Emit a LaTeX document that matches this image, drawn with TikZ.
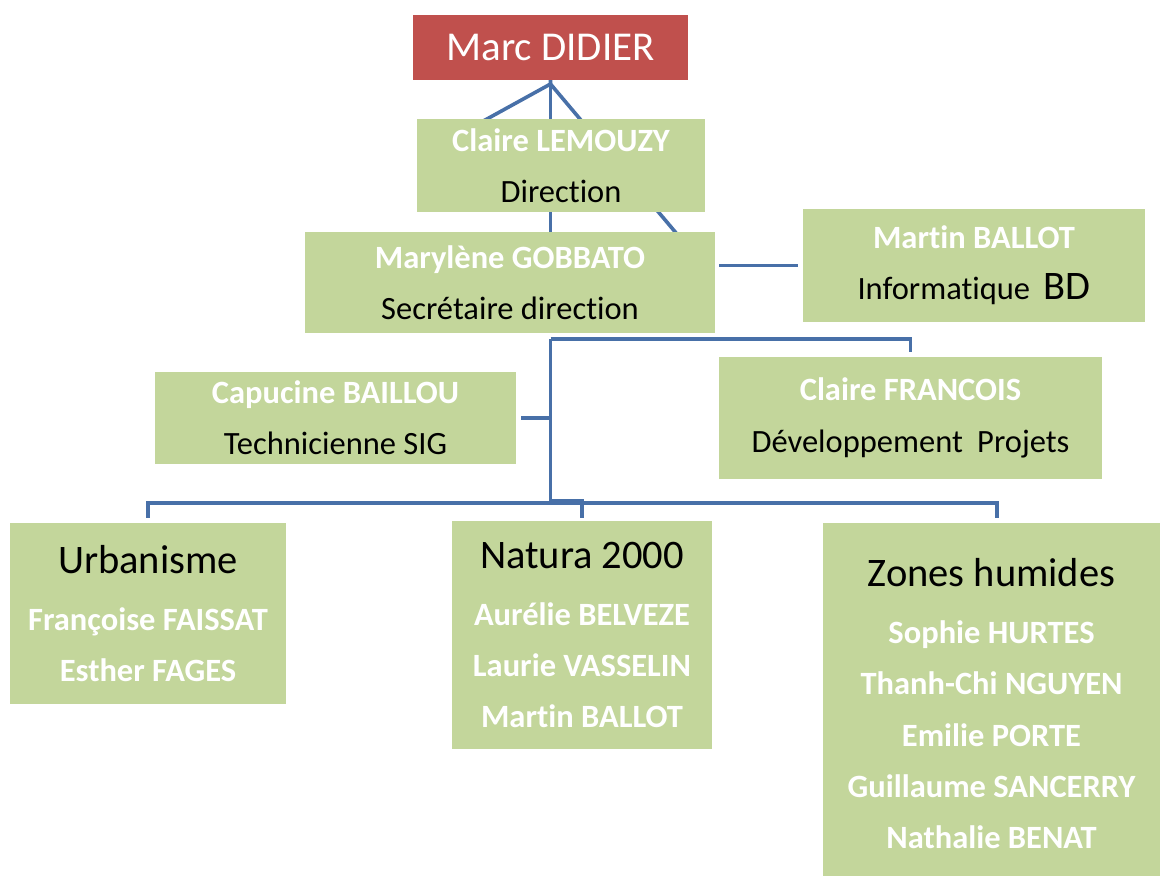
\documentclass[tikz,border=0pt]{standalone}
\usepackage{fontspec}
\setmainfont{Carlito}[Ligatures=NoCommon]
\pgfdeclarelayer{bg}
\pgfsetlayers{bg,main}
\definecolor{boxgreen}{HTML}{C3D69B}
\definecolor{boxred}{HTML}{C0504D}
\definecolor{linkblue}{HTML}{4870A8}
\newcommand{\nm}[1]{{\bfseries\color{white}#1}}
\newcommand{\bigtxt}[1]{{\fontsize{40.5bp}{51bp}\selectfont #1}}
\tikzset{
  box/.style={fill=boxgreen, draw=none, inner sep=0pt, align=center,
    font=\fontsize{32.5bp}{51.3bp}\selectfont},
  redbox/.style={fill=boxred, draw=none, inner sep=0pt, align=center, text=white,
    font=\fontsize{41bp}{49bp}\selectfont},
  link/.style={draw=linkblue, line width=3.6bp},
}
\begin{document}
\begin{tikzpicture}[x=1bp, y=-1bp]
\useasboundingbox (0,0) rectangle (1160,876);

\node[redbox, minimum width=275bp, minimum height=65bp] (marc) at (550.5,47.5) {Marc DIDIER};
\node[box, minimum width=288bp, minimum height=93bp] (lemouzy) at (561,165.5)
  {\nm{Claire LEMOUZY}\\Direction};
\node[box, minimum width=410bp, minimum height=101bp] (marylene) at (510,282.5)
  {\nm{Marylène GOBBATO}\\Secrétaire direction};
\node[box, minimum width=342bp, minimum height=113bp] (martin) at (974,265.5)
  {\nm{Martin BALLOT}\\Informatique\hspace{6bp} \bigtxt{BD}};
\node[box, minimum width=361bp, minimum height=92bp] (capucine) at (335.5,418)
  {\nm{Capucine BAILLOU}\\Technicienne SIG};
\node[box, minimum width=383bp, minimum height=122bp] (francois) at (910.5,418)
  {\nm{Claire FRANCOIS}\\Développement\hspace{7bp} Projets};
\node[box, minimum width=276bp, minimum height=181bp] (urba) at (148,613.5)
  {\bigtxt{Urbanisme}\\[6bp]\nm{Françoise FAISSAT}\\\nm{Esther FAGES}};
\node[box, minimum width=260bp, minimum height=228bp] (natura) at (582,635)
  {\bigtxt{Natura 2000}\\[6bp]\nm{Aurélie BELVEZE}\\\nm{Laurie VASSELIN}\\\nm{Martin BALLOT}};
\node[box, minimum width=337bp, minimum height=353bp] (zones) at (991.5,699.5)
  {\rule{0pt}{36bp}\bigtxt{Zones humides}\\[6bp]\nm{Sophie HURTES}\\\nm{Thanh-Chi NGUYEN}\\\nm{Emilie PORTE}\\\nm{Guillaume SANCERRY}\\\nm{Nathalie BENAT}};

\coordinate (apex) at (550.5,84);
\coordinate (leftend) at (467,130);
\coordinate (rightend) at (682,240);
\coordinate (downend) at (550.5,240);
\coordinate (hub) at (550.5,339);
\coordinate (fr) at (910.5,352);
\coordinate (bushub) at (550.5,501);
\coordinate (bl) at (148,503);
\coordinate (br) at (997,503);

\begin{pgfonlayer}{bg}
  \fill[white] (0,0) rectangle (1160,876);
  \draw[link] (marc.south) -- (apex) -- (leftend);
  \draw[link] (apex) -- (rightend);
  \draw[link] (marc.south) -- (downend);
  \draw[link, shorten <=5bp, shorten >=4bp] (martin.west) -- (martin.west -| marylene.east);
  \draw[link] (hub) -- (hub -| fr) -- (fr);
  \draw[link] (hub) -- (bushub) -- (bushub -| natura.north) -- ([yshift=3bp]natura.north);
  \draw[link] ([yshift=5bp]urba.north) -- (bl) -- (br) -- ([yshift=5bp]zones.north -| br);
  \draw[link, shorten <=5bp] (capucine.east) -- (capucine.east -| hub);
\end{pgfonlayer}
\end{tikzpicture}
\end{document}
